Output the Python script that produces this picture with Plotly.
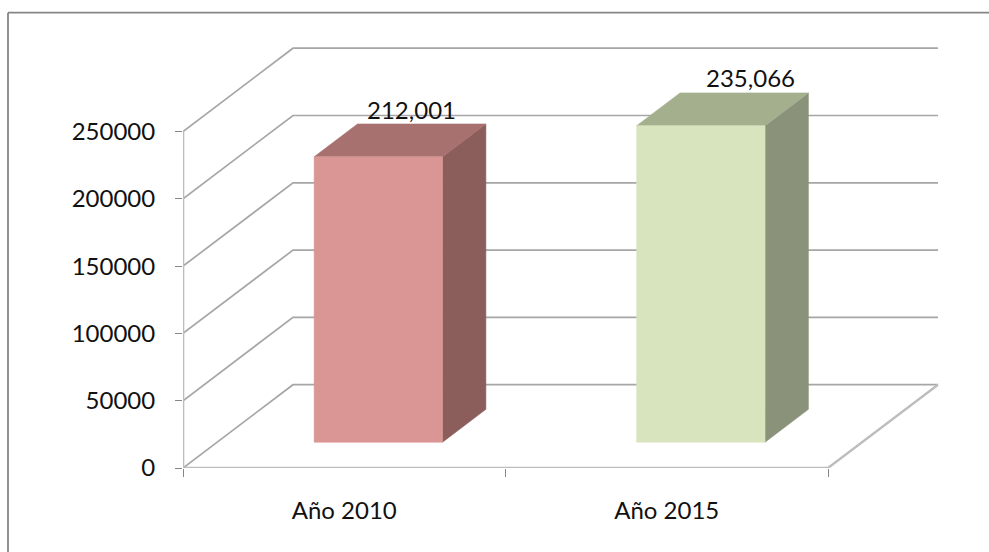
import plotly.graph_objects as go

# ---------------- data ----------------
categories = ["Año 2010", "Año 2015"]
values = [212001, 235066]
y_ticks = [0, 50000, 100000, 150000, 200000, 250000]
front_colors = ["#D99694", "#D7E4BD"]
top_colors = ["#A6716F", "#A4AF8E"]
side_colors = ["#8B5E5C", "#8A927A"]
label_xshift = [-10, 6]

# ---------------- layout geometry (pixels) ----------------
W, H = 989, 552
M_L, M_R, M_T, M_B = 183, 44, 38, 84
PLOT_W = W - M_L - M_R
PLOT_H = H - M_T - M_B
PX_PER_CAT = 322.5              # px per category along front axis
PX_PER_VAL = 336.5 / 250000.0   # px per value unit
DEPTH_PX = (110.0, 83.3)        # oblique depth offset of the back wall

X_MAX = PLOT_W / PX_PER_CAT
Y_MAX = PLOT_H / PX_PER_VAL
DX = DEPTH_PX[0] / PX_PER_CAT   # depth in category units
DY = DEPTH_PX[1] / PX_PER_VAL   # depth in value units
N = len(categories)
BAR_W = 0.398                   # fraction of a category
D0, D1 = 0.31, 0.704            # bar depth extent (fractions of full depth)

GRID = "#A6A6A6"
FONT = "Lato"
FW = 400
TXT = "#111111"

fig = go.Figure()

def poly(xs, ys, color, lw=0.6):
    fig.add_trace(go.Scatter(x=xs + [xs[0]], y=ys + [ys[0]], mode="lines",
                             fill="toself", fillcolor=color,
                             line=dict(color=color, width=lw),
                             hoverinfo="skip", showlegend=False))

def line(xs, ys, color, width):
    fig.add_trace(go.Scatter(x=xs, y=ys, mode="lines",
                             line=dict(color=color, width=width),
                             hoverinfo="skip", showlegend=False))

# back wall gridlines with diagonal side wall lines
for v in y_ticks:
    line([0, DX, N + DX], [v, v + DY, v + DY], GRID, 1.7)

# floor front edge and right diagonal
line([0, N, N + DX], [0, 0, DY], "#BDBDBD", 2.4)
# vertical axis line
line([0, 0], [0, y_ticks[-1]], "#BDBDBD", 2.6)

# bars
for i, v in enumerate(values):
    c = i + 0.5
    xl, xr = c - BAR_W / 2, c + BAR_W / 2
    # side face
    poly([xr + D0 * DX, xr + D1 * DX, xr + D1 * DX, xr + D0 * DX],
         [D0 * DY, D1 * DY, v + D1 * DY, v + D0 * DY], side_colors[i])
    # top face
    poly([xl + D0 * DX, xr + D0 * DX, xr + D1 * DX, xl + D1 * DX],
         [v + D0 * DY, v + D0 * DY, v + D1 * DY, v + D1 * DY], top_colors[i])
    # front face
    poly([xl + D0 * DX, xr + D0 * DX, xr + D0 * DX, xl + D0 * DX],
         [D0 * DY, D0 * DY, v + D0 * DY, v + D0 * DY], front_colors[i])
    fig.add_annotation(x=c + D1 * DX, y=v + D1 * DY, text=f"{v:,}",
                       showarrow=False, yshift=15, xshift=label_xshift[i],
                       font=dict(family=FONT, size=24, color=TXT, weight=FW))

# chart border (top and left edges visible)
def px_to_paper_x(px):
    return (px - M_L) / PLOT_W

def px_to_paper_y(py):
    return (H - M_B - py) / PLOT_H

fig.add_shape(type="line", xref="paper", yref="paper",
              x0=px_to_paper_x(8), x1=px_to_paper_x(1000),
              y0=px_to_paper_y(12.7), y1=px_to_paper_y(12.7),
              line=dict(color="#868686", width=1.8))
fig.add_shape(type="line", xref="paper", yref="paper",
              x0=px_to_paper_x(8), x1=px_to_paper_x(8),
              y0=px_to_paper_y(12.7), y1=px_to_paper_y(560),
              line=dict(color="#868686", width=1.8))

fig.update_layout(
    width=W, height=H,
    margin=dict(l=M_L, r=M_R, t=M_T, b=M_B, autoexpand=False),
    paper_bgcolor="white", plot_bgcolor="white",
    showlegend=False,
    font=dict(family=FONT, size=24, color=TXT, weight=FW),
    xaxis=dict(range=[0, X_MAX], showgrid=False, zeroline=False, showline=False,
               tickmode="array", tickvals=[i + 0.5 for i in range(N)],
               ticktext=categories, ticks="", ticklabelstandoff=26,
               tickfont=dict(family=FONT, size=24, color=TXT, weight=FW),
               minor=dict(tickmode="array", tickvals=list(range(N + 1)),
                          ticks="outside", ticklen=8, tickcolor="#868686",
                          tickwidth=1.2, showgrid=False),
               fixedrange=True),
    yaxis=dict(range=[0, Y_MAX], showgrid=False, zeroline=False, showline=False,
               tickmode="array", tickvals=y_ticks, tickformat="d",
               ticks="outside", ticklen=7, tickcolor="#868686", tickwidth=1.2,
               ticklabelstandoff=15,
               tickfont=dict(family=FONT, size=24, color=TXT, weight=FW),
               fixedrange=True),
)

fig.write_html("out.html", config={"displayModeBar": False},
               post_script="document.body.style.margin='0';")
